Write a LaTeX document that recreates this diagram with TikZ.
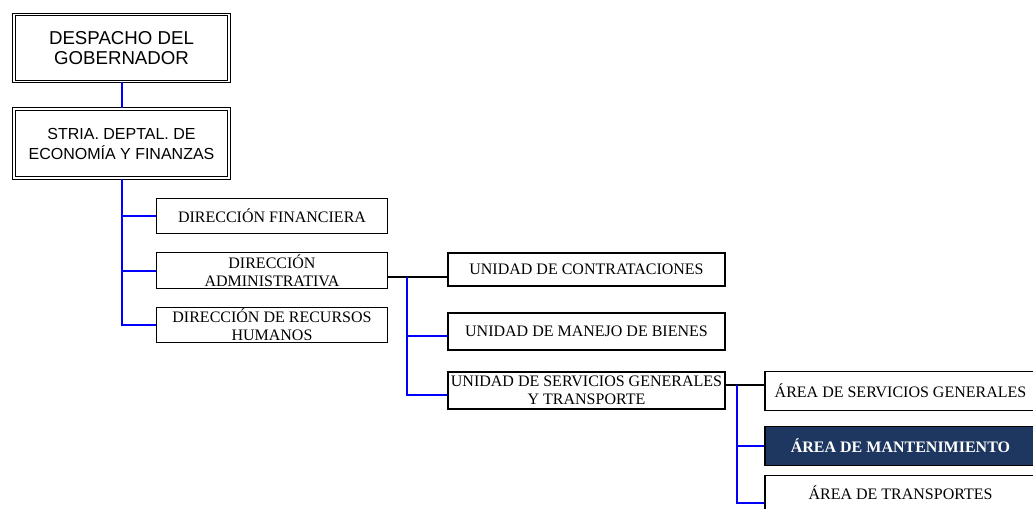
\documentclass[tikz,border=0pt]{standalone}
\usepackage{fontspec}
\setmainfont{Liberation Serif}
\newfontfamily\arialf{Liberation Sans}
\definecolor{navy}{RGB}{30,55,96}

\begin{document}
\begin{tikzpicture}[x=0.75pt,y=-0.75pt,
    topbox/.style={draw,double,line width=0.75pt,double distance=1.1pt,inner sep=0pt,
        minimum width=161.5pt,align=center,font=\arialf\fontsize{14}{15.5}\selectfont},
    subbox/.style={draw,line width=1.1pt,inner sep=0pt,align=center,
        font=\fontsize{12}{13.5}\selectfont},
    blueline/.style={blue,line width=1.5pt},
    blackline/.style={black,line width=1.3pt}]
    \useasboundingbox (0,0) rectangle (1033,508);
    \node[topbox,minimum height=50pt] (desp) at (121.5,48) {DESPACHO DEL\\GOBERNADOR};
    \node[topbox,minimum height=52pt,font=\arialf\fontsize{12}{15}\selectfont] (stria) at (121.5,143.5) {STRIA. DEPTAL. DE\\ECONOMÍA Y FINANZAS};
    \node[subbox,minimum width=173pt,minimum height=26pt] (df) at (272,216) {DIRECCIÓN FINANCIERA};
    \node[subbox,minimum width=173pt,minimum height=27pt] (da) at (272,270.5) {DIRECCIÓN\\ADMINISTRATIVA};
    \node[subbox,minimum width=173pt,minimum height=26pt] (drh) at (272,325) {DIRECCIÓN DE RECURSOS\\HUMANOS};
    \node[subbox,minimum width=208pt,minimum height=25pt] (uc) at (586.5,269.5) {UNIDAD DE CONTRATACIONES};
    \node[subbox,minimum width=208pt,minimum height=28pt] (umb) at (586.5,331.5) {UNIDAD DE MANEJO DE BIENES};
    \node[subbox,minimum width=208pt,minimum height=28pt] (usgt) at (586.5,390.5) {UNIDAD DE SERVICIOS GENERALES\\Y TRANSPORTE};
    \node[subbox,minimum width=203pt,minimum height=29pt] (asg) at (900.5,391) {ÁREA DE SERVICIOS GENERALES};
    \node[subbox,minimum width=203pt,minimum height=29pt,fill=navy,text=white,font=\fontsize{12}{13.5}\selectfont\bfseries] (am) at (900.5,446) {ÁREA DE MANTENIMIENTO};
    \node[subbox,minimum width=203pt,minimum height=26pt] (at) at (900.5,493) {ÁREA DE TRANSPORTES};
    % despacho -> secretaria -> direcciones
    \draw[blueline] (desp.south) -- (stria.north);
    \draw[blueline] (stria.south) |- (drh.west);
    \draw[blueline] (stria.south |- df.west) -- (df.west);
    \draw[blueline] (stria.south |- da.west) -- (da.west);
    % direccion administrativa -> unidades
    \coordinate (j1) at (407,277);
    \coordinate (umbin) at ([yshift=-3.4pt]umb.west);
    \coordinate (usgtin) at ([yshift=-3.4pt]usgt.west);
    \draw[blackline] (j1 -| da.east) -- (j1 -| uc.west);
    \draw[blueline] (j1) |- (usgtin);
    \draw[blueline] (j1 |- umbin) -- (umbin);
    % unidad de servicios -> areas
    \coordinate (j2) at (737,385);
    \coordinate (atin) at ([yshift=-7.5pt]at.west);
    \draw[blackline] (j2 -| usgt.east) -- (j2 -| asg.west);
    \draw[blueline] (j2) |- (atin);
    \draw[blueline] (j2 |- am.west) -- (am.west);
\end{tikzpicture}
\end{document}
